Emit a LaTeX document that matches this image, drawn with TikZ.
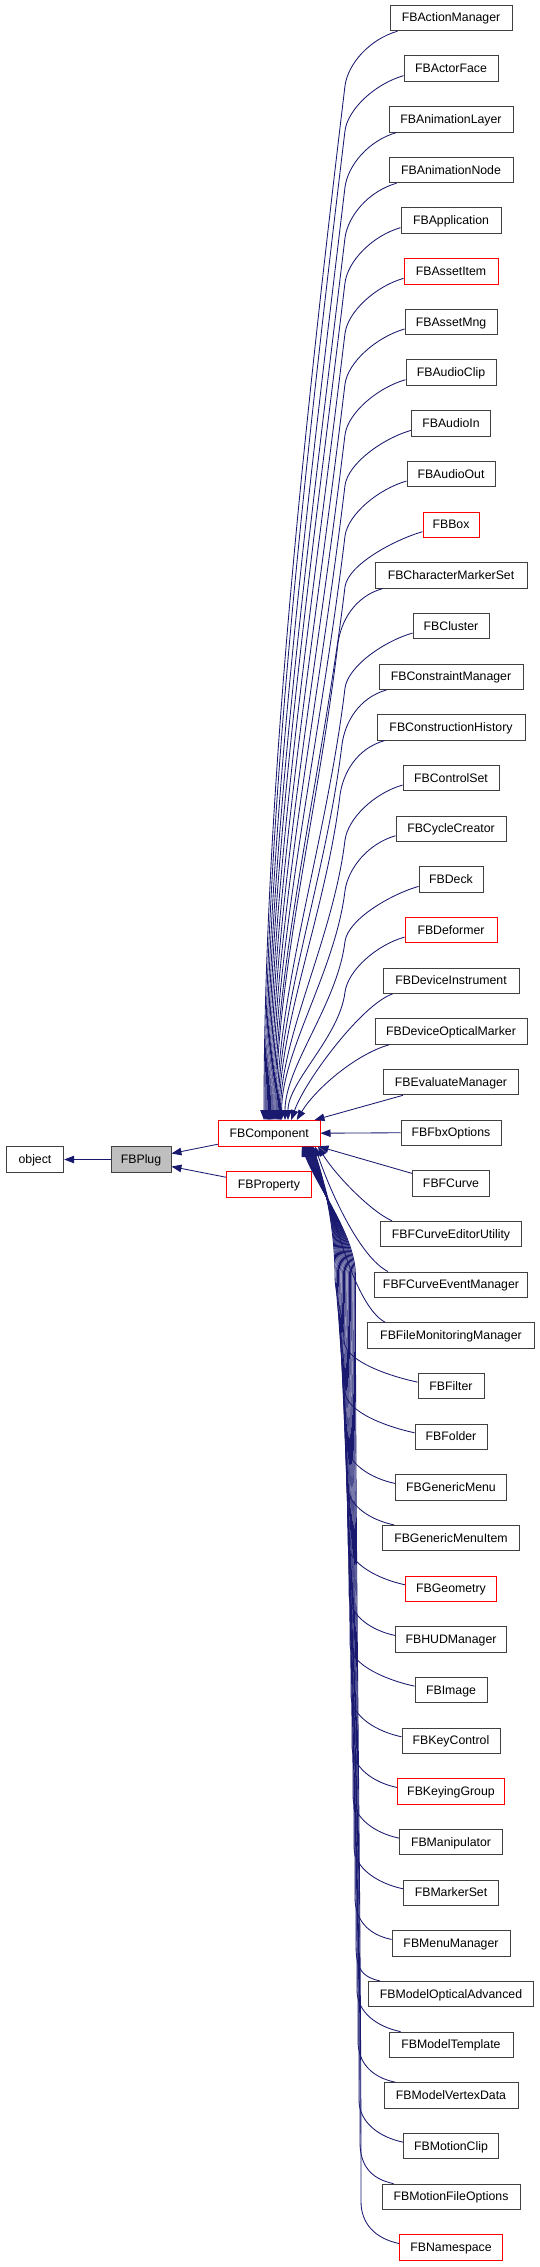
\documentclass[tikz,border=0pt]{standalone}
\usepackage{fontspec}
\setmainfont{Liberation Sans}
\usetikzlibrary{arrows.meta,calc}
\definecolor{edgeblue}{HTML}{191970}
\definecolor{boxgray}{HTML}{BFBFBF}
\definecolor{boxred}{HTML}{FF0000}
\definecolor{boxblack}{HTML}{404040}
\begin{document}
\begin{tikzpicture}[x=1pt,y=-1pt,
  cls/.style={draw=boxblack,line width=0.9pt,minimum height=25.5pt,inner sep=0pt,
    text height=8.8pt,text depth=0.8pt,font=\fontsize{12.3}{14}\selectfont,anchor=center},
  edge/.style={draw=edgeblue,line width=0.85pt,-{Triangle[length=10pt,width=7.5pt]}},
]
\fill[white] (0,0) rectangle (540,2267);
\useasboundingbox (0,0) rectangle (540,2267);

% left part
\node[cls,minimum width=57.5pt] (obj) at (35,1159.5) {object};
\node[cls,fill=boxgray,minimum width=60pt] (plug) at (141,1159.5) {FBPlug};
\node[cls,draw=boxred,minimum width=101.7pt] (comp) at (269.2,1133.2) {FBComponent};
\node[cls,draw=boxred,minimum width=84.2pt] (prop) at (268.9,1184.3) {FBProperty};

% right column
\foreach \k/\nm/\w/\col in {
1/FBActionManager/122/boxblack,
2/FBActorFace/94/boxblack,
3/FBAnimationLayer/124/boxblack,
4/FBAnimationNode/124/boxblack,
5/FBApplication/100/boxblack,
6/FBAssetItem/94/boxred,
7/FBAssetMng/92/boxblack,
8/FBAudioClip/90/boxblack,
9/FBAudioIn/79/boxblack,
10/FBAudioOut/88/boxblack,
11/FBBox/56/boxred,
12/FBCharacterMarkerSet/152/boxblack,
13/FBCluster/76/boxblack,
14/FBConstraintManager/144/boxblack,
15/FBConstructionHistory/148/boxblack,
16/FBControlSet/96/boxblack,
17/FBCycleCreator/110/boxblack,
18/FBDeck/64/boxblack,
19/FBDeformer/92/boxred,
20/FBDeviceInstrument/136/boxblack,
21/FBDeviceOpticalMarker/152/boxblack,
22/FBEvaluateManager/135/boxblack,
23/FBFbxOptions/100/boxblack,
24/FBFCurve/77/boxblack,
25/FBFCurveEditorUtility/141/boxblack,
26/FBFCurveEventManager/153/boxblack,
27/FBFileMonitoringManager/167/boxblack,
28/FBFilter/66/boxblack,
29/FBFolder/72/boxblack,
30/FBGenericMenu/111/boxblack,
31/FBGenericMenuItem/137/boxblack,
32/FBGeometry/91/boxred,
33/FBHUDManager/111/boxblack,
34/FBImage/72/boxblack,
35/FBKeyControl/98/boxblack,
36/FBKeyingGroup/107/boxred,
37/FBManipulator/103/boxblack,
38/FBMarkerSet/95/boxblack,
39/FBMenuManager/118/boxblack,
40/FBModelOpticalAdvanced/165/boxblack,
41/FBModelTemplate/124/boxblack,
42/FBModelVertexData/134/boxblack,
43/FBMotionClip/95/boxblack,
44/FBMotionFileOptions/138/boxblack,
45/FBNamespace/103/boxred} {
  \node[cls,draw=\col,minimum width=\w pt] (n\k) at (451,{18+(\k-1)*50.67}) {\nm};
}

% left edges
\draw[edge] (plug.west) -- (obj.east);
\draw[edge] ($(comp.west)+(0,11)$) -- ($(plug.east)+(0,-6)$);
\draw[edge] ($(prop.west)+(0,-7)$) -- ($(plug.east)+(0,7)$);

% upper edges
\foreach \k/\w in {1/122,2/94,3/124,4/124,5/100,6/94,7/92,8/90,9/79,10/88,11/56,12/152,13/76,14/144,15/148,16/96,17/110,18/64,19/92} {
  \pgfmathsetmacro\cy{18+(\k-1)*50.67}
  \pgfmathsetmacro\xl{451-\w/2}
  \ifdim \w pt>118pt
    \coordinate (s\k) at ($(n\k.south west)+(8,0)$);
    \pgfmathsetmacro\sx{\xl+8}
    \pgfmathsetmacro\sy{\cy+12.75}
  \else
    \coordinate (s\k) at ($(n\k.west)+(0,7)$);
    \pgfmathsetmacro\sx{\xl}
    \pgfmathsetmacro\sy{\cy+7}
  \fi
  \pgfmathsetmacro\px{min(\sx-45,345)}
  \pgfmathsetmacro\py{\sy+55}
  \pgfmathsetmacro\ex{\k<18 ? 264+(\k-1)*1.1 : (\k==18 ? 285 : 288)}
  \pgfmathsetmacro\La{0.35*(1120-\py)}
  \pgfmathsetmacro\Lb{0.3*(1120-\py)}
  \pgfmathsetmacro\Lc{-0.12*\La}
  \pgfmathsetmacro\exo{\ex-269.2}
  \draw[edge] (s\k) .. controls +(-28,8) and +(3,-22) .. (\px,\py)
     .. controls +(\Lc,\La) and +(0,-\Lb) .. ($(comp.north)+(\exo,0)$);
}
\draw[edge] ($(n20.south west)+(10,0)$) .. controls +(-30,10) and +(14,-40) .. ($(comp.north)+(22,0)$);
\draw[edge] ($(n21.south west)+(15,0)$) .. controls +(-35,10) and +(18,-30) .. ($(comp.north)+(27.5,0)$);
\draw[edge] ($(n22.south west)+(20,0)$) -- ($(comp.north east)+(-6,0)$);
\draw[edge] (n23.west) -- (comp.east);
\draw[edge] ($(n24.west)+(0,-10)$) -- ($(comp.south east)+(-2,0)$);

% lower edges
\draw[edge] ($(n25.north west)+(12,0)$) .. controls +(-22,-10) and +(17,28) .. ($(comp.south)+(48.8,0)$);
\draw[edge] ($(n26.north west)+(14,0)$) .. controls +(-28,-14) and +(15,45) .. ($(comp.south)+(45.8,0)$);
\draw[edge] ($(n27.north west)+(18,0)$) .. controls +(-33,-18) and +(17,55) .. ($(comp.south)+(43.8,0)$);
\foreach \k/\w in {28/66,29/72,30/111,31/137,32/91,33/111,34/72,35/98,36/107,37/103,38/95,39/118,40/165,41/124,42/134,43/95,44/138,45/103} {
  \pgfmathsetmacro\cy{18+(\k-1)*50.67}
  \ifdim \w pt>118pt
    \coordinate (t\k) at ($(n\k.north west)+(12,0)$);
    \pgfmathsetmacro\sy{\cy-12.75}
  \else
    \coordinate (t\k) at ($(n\k.west)+(0,-4)$);
    \pgfmathsetmacro\sy{\cy-4}
  \fi
  \pgfmathsetmacro\px{344+(\k-28)*1.0}
  \pgfmathsetmacro\py{\sy-42}
  \pgfmathsetmacro\mx{335+(\k-28)*1.2}
  \pgfmathsetmacro\La{0.35*(\py-1275)}
  \pgfmathsetmacro\exo{312-(\k-28)*0.6-269.2}
  \draw[edge] (t\k) .. controls +(-24,-5) and +(0,22) .. (\px,\py)
     .. controls +(0,-\La) and +(0,\La) .. (\mx,1275)
     .. controls +(0,-40) and +(14,38) .. ($(comp.south)+(\exo,0)$);
}
\end{tikzpicture}
\end{document}
